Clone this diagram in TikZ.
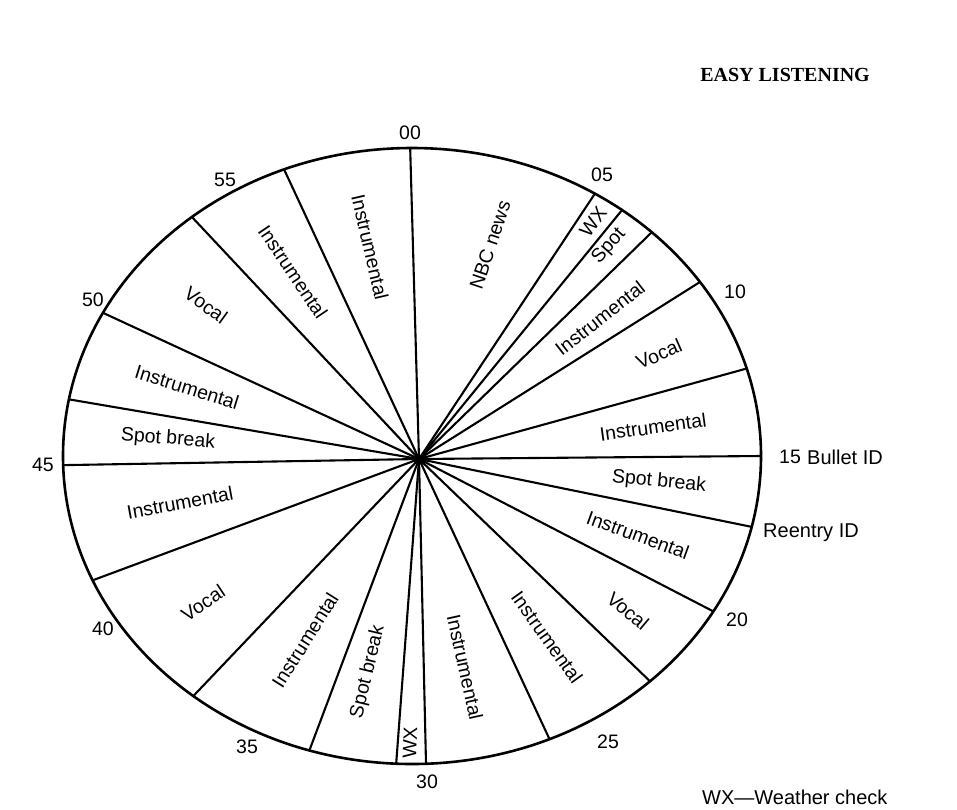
\documentclass[tikz,border=0pt]{standalone}
\usepackage{fontspec}
\setmainfont{Liberation Sans}
\newfontfamily\titlefont{Liberation Serif}
\begin{document}
\begin{tikzpicture}[x=1pt,y=1pt,
  rim/.style={line width=2.6pt},
  spoke/.style={line width=2.1pt},
  seclabel/.style={font=\fontsize{19.5}{19.5}\selectfont, inner sep=0pt},
  minlabel/.style={font=\fontsize{19.5}{19.5}\selectfont, inner sep=0pt},
  sidelabel/.style={font=\fontsize{20}{20}\selectfont, inner sep=0pt},
]
\useasboundingbox (0,0) rectangle (957,-809);
\coordinate (c) at (412,-456);
\coordinate (hub) at (419,-459);
\draw[rim] (c) ellipse [x radius=349, y radius=308];
% rim points (angle parameter on the ellipse)
\foreach \n/\t in {1/90.3, 2/58.4, 3/53.0, 4/46.6, 5/34.4, 6/16.5, 7/0, 8/-13.3,
  9/-30.3, 10/-47.0, 11/-66.8, 12/-87.7, 13/-92.6, 14/-107.1, 15/-128.8,
  16/-156.2, 17/-178.3, 18/169.4, 19/152.3, 20/129.1, 21/111.5}
  \coordinate (r\n) at ([shift={(c)}] \t:349 and 308);
\foreach \n in {1,...,21}
  \draw[spoke] (hub) -- (r\n);
% sector labels
\node[seclabel, rotate=71.6] (s1) at (490,-245) {NBC news};
\node[seclabel, rotate=53.7] (s2) at (593,-222) {WX};
\node[seclabel, rotate=48.5] (s3) at (609,-246) {Spot};
\node[seclabel, rotate=37.9] (s4) at (600,-318) {Instrumental};
\node[seclabel, rotate=23.6] (s5) at (659,-354) {Vocal};
\node[seclabel, rotate=7.8] (s6) at (653,-427) {Instrumental};
\node[seclabel, rotate=-5.5] (s7) at (659,-482) {Spot break};
\node[seclabel, rotate=-20] (s8) at (638,-535) {Instrumental};
\node[seclabel, rotate=-40] (s9) at (628,-611) {Vocal};
\node[seclabel, rotate=-54.3] (s10) at (547,-637) {Instrumental};
\node[seclabel, rotate=-77.5] (s11) at (465,-667) {Instrumental};
\node[seclabel, rotate=88.2] (s12) at (410,-743) {WX};
\node[seclabel, rotate=76.5] (s13) at (368,-672) {Spot break};
\node[seclabel, rotate=57.8] (s14) at (305,-640) {Instrumental};
\node[seclabel, rotate=33.7] (s15) at (203,-603) {Vocal};
\node[seclabel, rotate=10.4] (s16) at (180,-503) {Instrumental};
\node[seclabel, rotate=-4.6] (s17) at (168,-439) {Spot break};
\node[seclabel, rotate=-17.2] (s18) at (187,-387) {Instrumental};
\node[seclabel, rotate=-35.9] (s19) at (206,-305) {Vocal};
\node[seclabel, rotate=-56] (s20) at (293,-272) {Instrumental};
\node[seclabel, rotate=-77] (s21) at (370,-247) {Instrumental};
% minute labels
\node[minlabel] (m00) at (410,-133) {00};
\node[minlabel] (m05) at (602,-175) {05};
\node[minlabel] (m10) at (735,-292) {10};
\node[minlabel] (m15) at (790,-457) {15};
\node[minlabel] (m20) at (737,-620) {20};
\node[minlabel] (m25) at (608,-742) {25};
\node[minlabel] (m30) at (427,-782) {30};
\node[minlabel] (m35) at (247,-747) {35};
\node[minlabel] (m40) at (103,-629) {40};
\node[minlabel] (m45) at (43,-465) {45};
\node[minlabel] (m50) at (93,-300) {50};
\node[minlabel] (m55) at (225,-180) {55};
% side notes
\node[sidelabel, anchor=west] (bid) at (807,-457) {Bullet ID};
\node[sidelabel, anchor=west] (rid) at (763,-533) {Reentry ID};
\node[font=\titlefont\bfseries\fontsize{20}{20}\selectfont, inner sep=0pt, anchor=east] (title) at (870,-75) {EASY LISTENING};
\node[sidelabel, anchor=west] (key) at (702,-797) {WX—Weather check};
\end{tikzpicture}
\end{document}
